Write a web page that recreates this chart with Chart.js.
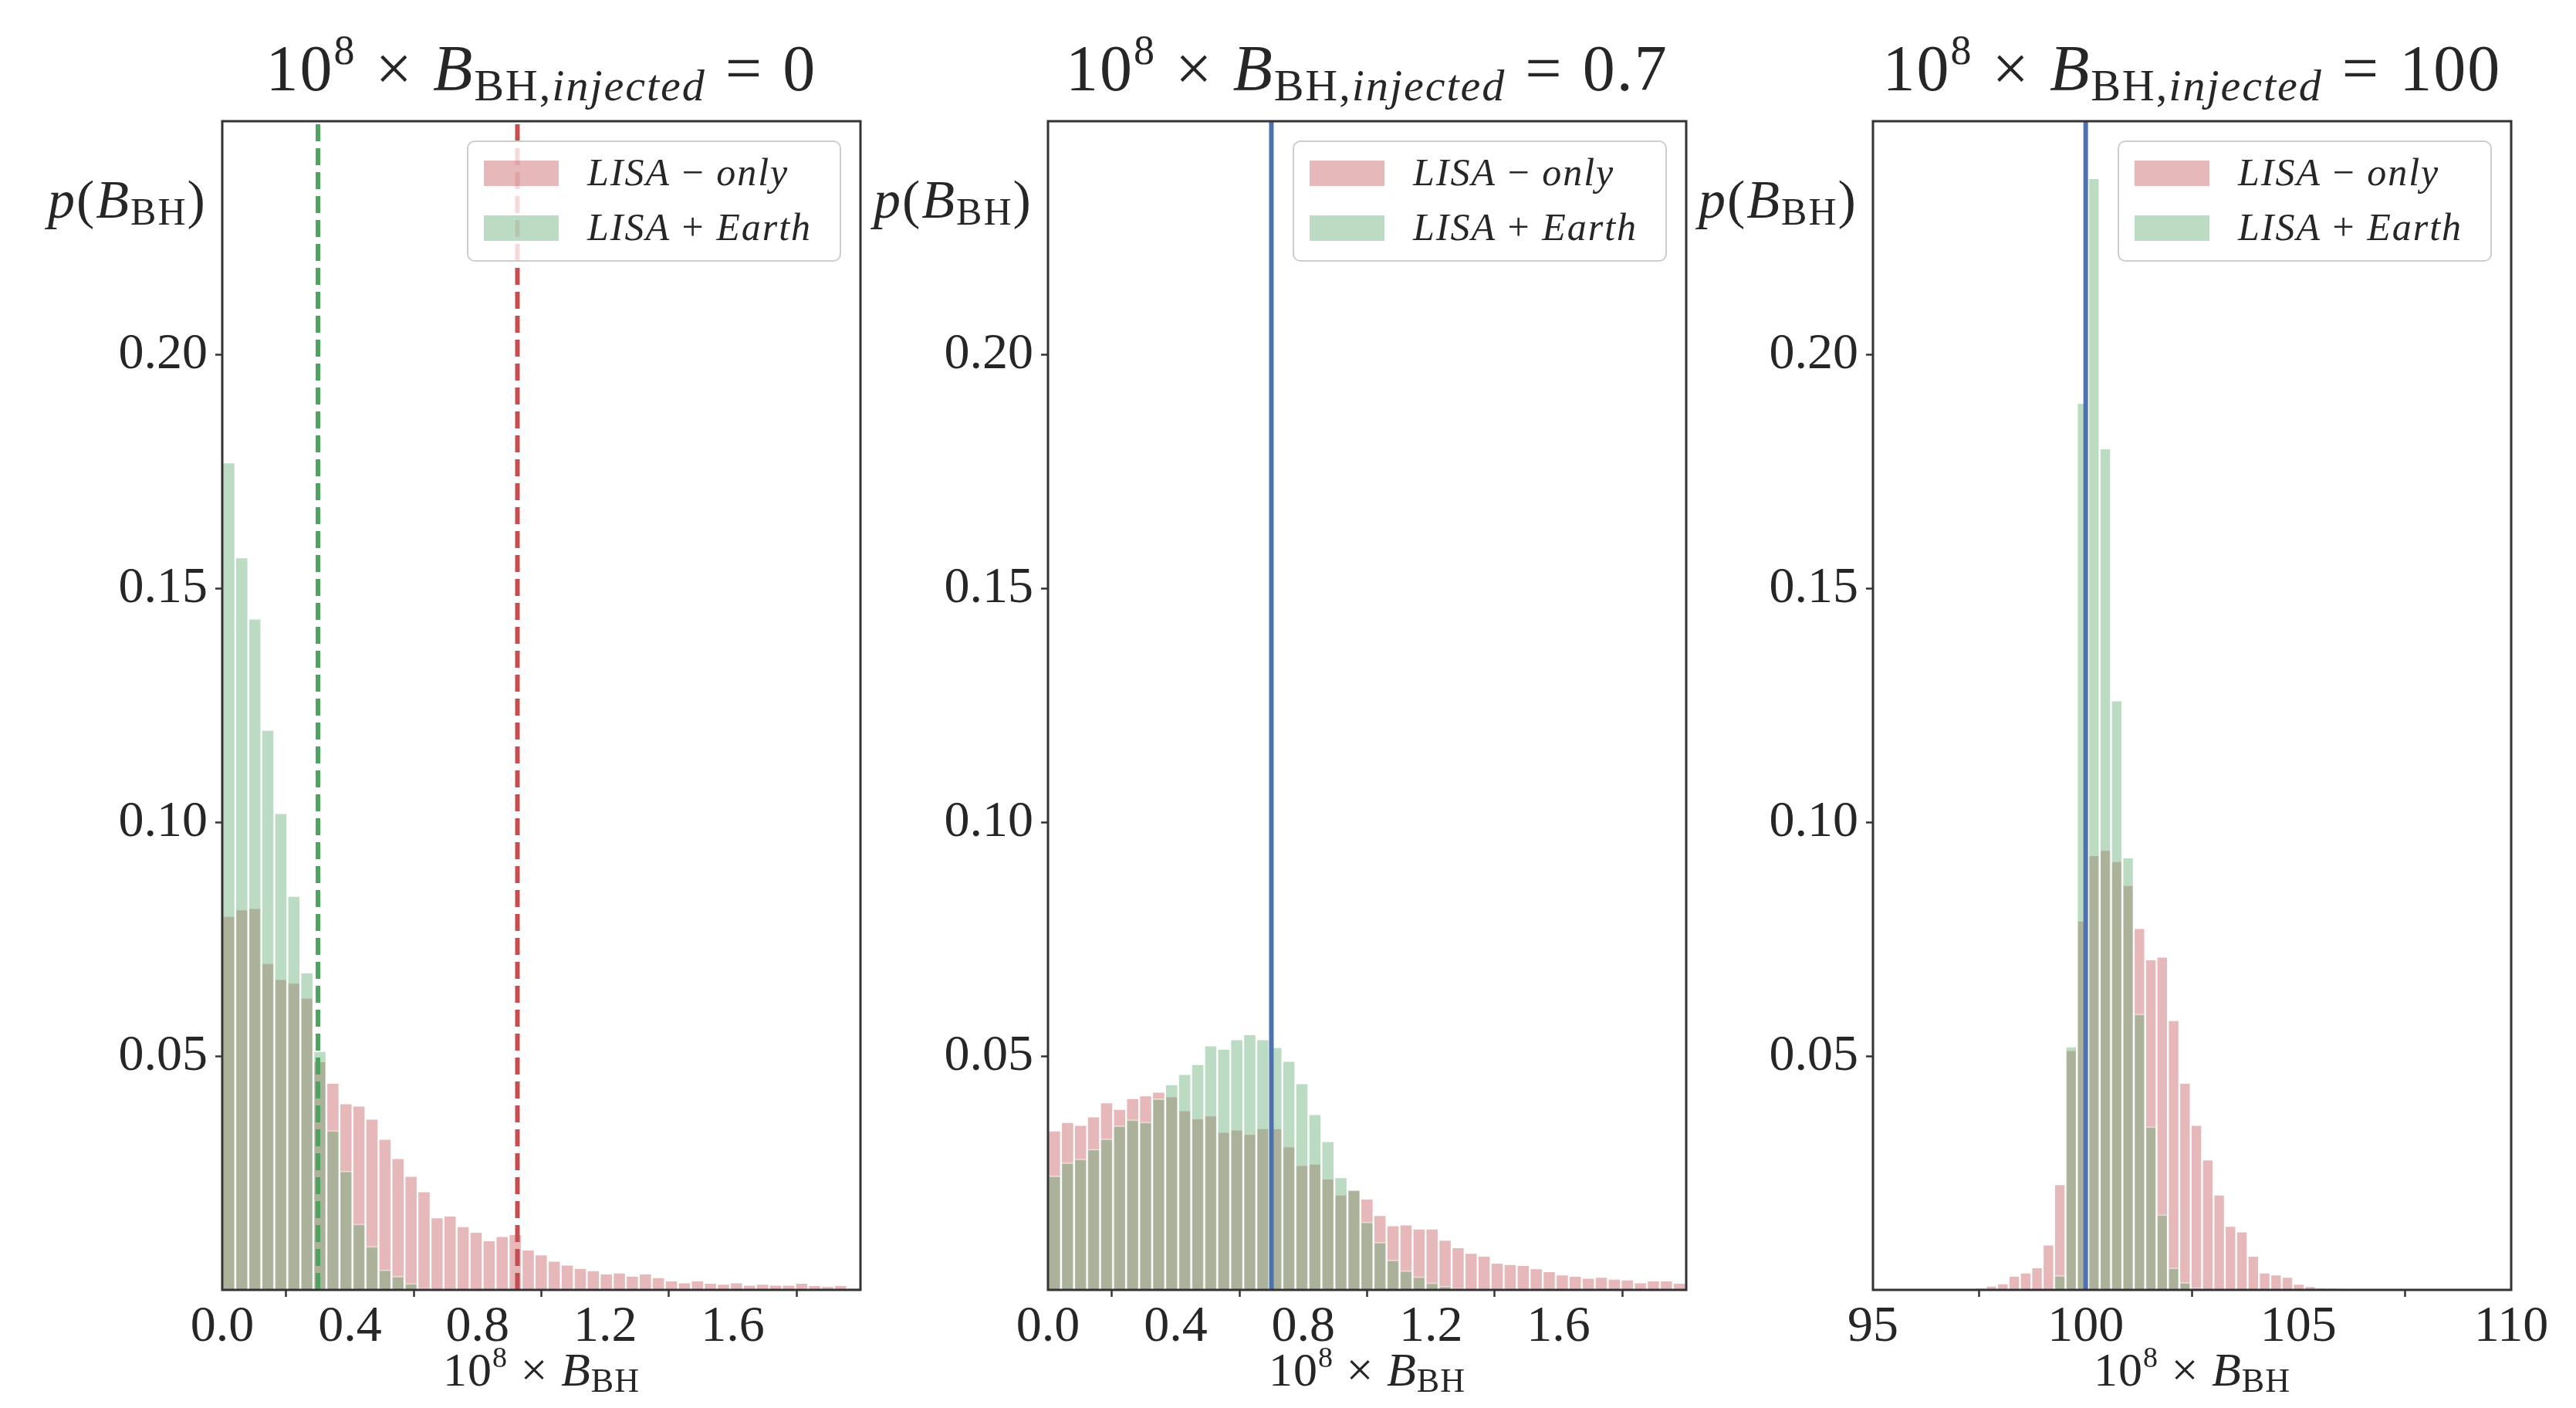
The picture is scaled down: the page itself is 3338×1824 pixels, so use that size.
<!DOCTYPE html>
<html><head><meta charset="utf-8">
<script src="https://cdn.jsdelivr.net/npm/chart.js@4.4.1/dist/chart.umd.min.js"></script>
<style>
html,body{margin:0;padding:0;background:#fff;width:3338px;height:1824px;overflow:hidden;}
#root{position:relative;width:3338px;height:1824px;}
#root canvas{position:absolute;top:0;}
.t{position:absolute;font-family:"Liberation Serif",serif;color:#262626;white-space:nowrap;line-height:1;}
.t .sup,.t .sub{position:relative;}
.legend{position:absolute;box-sizing:border-box;border:2px solid rgba(200,200,200,0.9);border-radius:10px;background:rgba(255,255,255,0.8);}
.legend .row{position:absolute;left:0;right:0;height:40px;}
.legend .patch{position:absolute;left:20px;top:4px;width:97px;height:33px;}
.legend .lab{position:absolute;left:154px;top:-6px;font-family:"Liberation Serif",serif;font-size:50px;line-height:1;color:#262626;white-space:nowrap;letter-spacing:2px;}
</style>
</head><body><div id="root"></div>
<script>
// ---------------- data ----------------
const seriesNames = ["LISA \u2212 only", "LISA + Earth"];
const injectedValues = ["0", "0.7", "100"];

const leftBinStart = 0, leftBinWidth = 0.0408;
const leftRed = [0.0800,0.0814,0.0817,0.0699,0.0665,0.0657,0.0625,0.0489,0.0443,0.0399,
  0.0394,0.0366,0.0323,0.0282,0.0244,0.0211,0.0155,0.0159,0.0136,0.0124,
  0.0106,0.0115,0.0119,0.0086,0.0076,0.0062,0.0054,0.0047,0.0042,0.0035,
  0.0037,0.0030,0.0035,0.0027,0.0020,0.0016,0.0020,0.0015,0.0013,0.0016,
  0.0011,0.0013,0.0011,0.0011,0.0015,0.0010,0.0008,0.0010,0.0005];
const leftGreen = [0.1770,0.1567,0.1436,0.1198,0.1020,0.0843,0.0679,0.0511,0.0341,0.0254,
  0.0141,0.0093,0.0043,0.0029,0.0014,0.0004,0,0,0,0,
  0,0,0,0,0,0,0,0,0,0,
  0,0,0,0,0,0,0,0,0,0,
  0,0,0,0,0,0,0,0,0];
const leftMarkerGreen = 0.30;   // dashed green line
const leftMarkerRed = 0.925;    // dashed red line

const midBinStart = 0, midBinWidth = 0.0408;
const midRed = [0.0341,0.0359,0.0353,0.0371,0.0401,0.0387,0.0410,0.0416,0.0424,0.0414,
  0.0384,0.0367,0.0373,0.0338,0.0343,0.0334,0.0346,0.0346,0.0307,0.0267,
  0.0270,0.0238,0.0204,0.0214,0.0195,0.0160,0.0138,0.0140,0.0131,0.0131,
  0.0107,0.0091,0.0079,0.0073,0.0058,0.0055,0.0053,0.0046,0.0040,0.0033,
  0.0030,0.0026,0.0028,0.0024,0.0022,0.0016,0.0020,0.0020,0.0015];
const midGreen = [0.0244,0.0272,0.0280,0.0301,0.0323,0.0351,0.0364,0.0359,0.0409,0.0440,
  0.0462,0.0483,0.0523,0.0516,0.0536,0.0547,0.0536,0.0519,0.0490,0.0442,
  0.0376,0.0318,0.0241,0.0214,0.0145,0.0102,0.0064,0.0041,0.0028,0.0015,
  0.0008,0.0004,0,0,0,0,0,0,0,0,
  0,0,0,0,0,0,0,0,0];
const midMarker = 0.70;

const rightBinStart = 95.78, rightBinWidth = 0.2675;
const rightRed = [0.0002,0.0000,0.0001,0.0001,0.0002,0.0002,0.0005,0.0009,0.0014,0.0030,
  0.0037,0.0048,0.0097,0.0226,0.0513,0.0790,0.0930,0.0941,0.0917,0.0866,
  0.0774,0.0707,0.0713,0.0577,0.0443,0.0353,0.0279,0.0204,0.0137,0.0125,
  0.0073,0.0037,0.0033,0.0028,0.0013,0.0008,0.0005,0.0005,0.0003];
const rightGreen = [0,0,0,0,0,0,0,0,0,0,
  0,0,0,0.0031,0.0521,0.1897,0.2378,0.1800,0.1261,0.0925,
  0.0590,0.0349,0.0161,0.0047,0.0016,0.0005,0,0,0,0,
  0,0,0,0,0,0,0,0,0];
const rightMarker = 100;

const xTicksSmall = [0.0, 0.4, 0.8, 1.2, 1.6];
const xTicksLarge = [95, 100, 105, 110];
const yTicks = [0.05, 0.10, 0.15, 0.20];
const yMax = 0.25;

// ---------------- styles / layout ----------------
const RED_FILL = 'rgba(196,78,82,0.4)';
const GREEN_FILL = 'rgba(85,168,104,0.4)';
const EDGE = 'rgba(255,255,255,0.45)';
const INK = '#262626';
const FONT = '"Liberation Serif", serif';
const axLefts = [288, 1358, 2427];
const AX_W = 827, AX_TOP = 157, AX_BOTTOM = 1671, LEFT_SPACE = 220, RIGHT_SPACE = 70, H = 1824;

const framePlugin = {
  id: 'frame',
  afterDraw(chart) {
    const a = chart.chartArea, ctx = chart.ctx;
    ctx.save();
    ctx.strokeStyle = '#333333';
    ctx.lineWidth = 3;
    ctx.strokeRect(a.left, a.top, a.right - a.left, a.bottom - a.top);
    ctx.restore();
  }
};

function bars(start, width, vals) {
  return vals.map((v, i) => ({x: start + (i + 0.5) * width, y: v}));
}
function vline(x, color, dashed) {
  return {
    type: 'line', data: [{x: x, y: 0}, {x: x, y: yMax}],
    borderColor: color, borderWidth: 6, borderDash: dashed ? [22, 9] : [],
    pointRadius: 0, order: 0, fill: false, tension: 0
  };
}

function makePanel(i, cfg) {
  const root = document.getElementById('root');
  const cv = document.createElement('canvas');
  const cw = LEFT_SPACE + AX_W + RIGHT_SPACE;
  cv.width = cw; cv.height = H;
  cv.style.width = cw + 'px'; cv.style.height = H + 'px';
  cv.style.left = (axLefts[i] - LEFT_SPACE) + 'px';
  root.appendChild(cv);

  const datasets = [
    {type: 'bar', label: seriesNames[1], data: bars(cfg.start, cfg.width, cfg.green),
     backgroundColor: GREEN_FILL, borderColor: EDGE, borderWidth: 1.5, order: 1,
     grouped: false, barPercentage: 1, categoryPercentage: 1},
    {type: 'bar', label: seriesNames[0], data: bars(cfg.start, cfg.width, cfg.red),
     backgroundColor: RED_FILL, borderColor: EDGE, borderWidth: 1.5, order: 2,
     grouped: false, barPercentage: 1, categoryPercentage: 1}
  ].concat(cfg.lines);

  const tickFont = {family: FONT, size: 66};
  const chart = new Chart(cv, {
    type: 'bar',
    data: {datasets: datasets},
    plugins: [framePlugin],
    options: {
      responsive: false, animation: false, devicePixelRatio: 1,
      layout: {padding: {top: AX_TOP, right: RIGHT_SPACE, left: 0, bottom: 0}},
      plugins: {legend: {display: false}, tooltip: {enabled: false}, title: {display: false}},
      scales: {
        x: {
          type: 'linear', min: cfg.xmin, max: cfg.xmax, offset: false,
          afterBuildTicks: s => { s.ticks = cfg.xticks.map(v => ({value: v})); },
          afterFit: s => { s.height = H - AX_BOTTOM; },
          ticks: {autoSkip: false, maxRotation: 0, font: tickFont, color: INK, padding: 0,
                  callback: v => cfg.xfmt(v)},
          grid: {display: true, drawOnChartArea: false, drawTicks: true, tickLength: 9,
                 tickWidth: 2.5, tickColor: '#333333'},
          border: {display: false}
        },
        y: {
          type: 'linear', min: 0, max: yMax,
          afterBuildTicks: s => { s.ticks = yTicks.map(v => ({value: v})); },
          afterFit: s => { s.width = LEFT_SPACE; },
          ticks: {autoSkip: false, font: tickFont, color: INK, padding: 10,
                  callback: v => Number(v).toFixed(2)},
          grid: {display: true, drawOnChartArea: false, drawTicks: true, tickLength: 9,
                 tickWidth: 2.5, tickColor: '#333333'},
          border: {display: false}
        }
      }
    }
  });

  const a = chart.chartArea;
  const offX = axLefts[i] - LEFT_SPACE;
  const L = offX + a.left, R = offX + a.right, T = a.top, B = a.bottom, C = (L + R) / 2;

  // title
  const title = document.createElement('div');
  title.className = 't';
  title.style.fontSize = '84px';
  title.style.letterSpacing = '2px';
  title.style.wordSpacing = '2px';
  title.innerHTML = '10<span class="sup" style="font-size:54px;top:-34px">8</span> \u00d7 <i>B</i>' +
    '<span class="sub" style="font-size:58px;top:13px">BH,<i>injected</i></span> = ' + injectedValues[i];
  root.appendChild(title);
  title.style.left = (C - title.offsetWidth / 2) + 'px';
  title.style.top = (117 - 0.8375 * 84) + 'px';

  // y label
  const yl = document.createElement('div');
  yl.className = 't';
  yl.style.fontSize = '70px';
  yl.style.letterSpacing = '2px';
  yl.innerHTML = '<i>p</i>(<i>B</i><span class="sub" style="font-size:50px;top:9px">BH</span>)';
  root.appendChild(yl);
  yl.style.left = (L - 226) + 'px';
  yl.style.top = (283 - 0.8375 * 70) + 'px';

  // x label
  const xl = document.createElement('div');
  xl.className = 't';
  xl.style.fontSize = '62px';
  xl.style.letterSpacing = '1px';
  xl.innerHTML = '10<span class="sup" style="font-size:38px;top:-24px">8</span> \u00d7 <i>B</i>' +
    '<span class="sub" style="font-size:44px;top:8px">BH</span>';
  root.appendChild(xl);
  xl.style.left = (C - xl.offsetWidth / 2) + 'px';
  xl.style.top = (1795 - 0.8375 * 62) + 'px';

  // legend
  const lg = document.createElement('div');
  lg.className = 'legend';
  const lw = 485, lh = 157;
  lg.style.width = lw + 'px'; lg.style.height = lh + 'px';
  lg.style.left = (R - 25 - lw) + 'px';
  lg.style.top = (T + 25) + 'px';
  lg.innerHTML =
    '<div class="row" style="top:20px"><div class="patch" style="background:' + RED_FILL + '"></div>' +
    '<div class="lab"><i>LISA</i> \u2212 <i>only</i></div></div>' +
    '<div class="row" style="top:91px"><div class="patch" style="background:' + GREEN_FILL + '"></div>' +
    '<div class="lab"><i>LISA</i> + <i>Earth</i></div></div>';
  root.appendChild(lg);
}

const fmt1 = v => Number(v).toFixed(1);
const fmt0 = v => String(Math.round(v));

makePanel(0, {start: leftBinStart, width: leftBinWidth, red: leftRed, green: leftGreen,
  xmin: 0, xmax: 2.0, xticks: xTicksSmall, xfmt: fmt1,
  lines: [vline(leftMarkerGreen, '#4ea35e', true), vline(leftMarkerRed, '#c44e52', true)]});
makePanel(1, {start: midBinStart, width: midBinWidth, red: midRed, green: midGreen,
  xmin: 0, xmax: 2.0, xticks: xTicksSmall, xfmt: fmt1,
  lines: [vline(midMarker, '#4c72b0', false)]});
makePanel(2, {start: rightBinStart, width: rightBinWidth, red: rightRed, green: rightGreen,
  xmin: 95, xmax: 110, xticks: xTicksLarge, xfmt: fmt0,
  lines: [vline(rightMarker, '#4c72b0', false)]});
</script>
</body></html>
